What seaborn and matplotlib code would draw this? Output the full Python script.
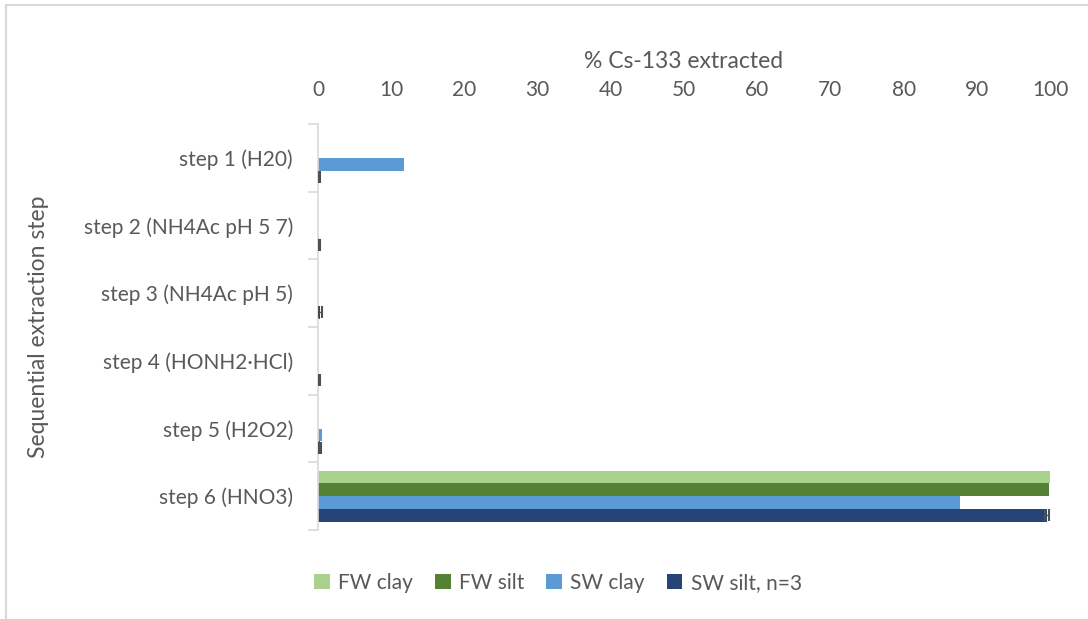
import numpy as np
import pandas as pd
import matplotlib
matplotlib.use("Agg")
import matplotlib.pyplot as plt
import seaborn as sns
from matplotlib.lines import Line2D
from matplotlib.patches import Patch

steps = ["step 1 (H20)", "step 2 (NH4Ac pH 5 7)", "step 3 (NH4Ac pH 5)",
         "step 4 (HONH2\u00b7HCl)", "step 5 (H2O2)", "step 6 (HNO3)"]
series = ["FW clay", "FW silt", "SW clay", "SW silt, n=3"]

fw_clay = [0.0, 0.05, 0.0, 0.05, 0.0, 100.0]
fw_silt = [0.0, 0.0, 0.0, 0.0, 0.0, 99.8]
sw_clay = [11.7, 0.05, 0.0, 0.0, 0.5, 87.7]
sw_silt = [0.2, 0.2, 0.3, 0.2, 0.3, 99.6]
sw_silt_err = [0.05, 0.05, 0.3, 0.05, 0.1, 0.3]

colors = ["#A9D18E", "#548235", "#5B9BD5", "#264478"]
text_color = "#595959"

sns.set_theme(style="white")
plt.rcParams["font.family"] = ["Lato", "DejaVu Sans"]

df = pd.DataFrame({
    "step": steps * 4,
    "series": [s for s in series for _ in steps],
    "value": fw_clay + fw_silt + sw_clay + sw_silt,
})

fig = plt.figure(figsize=(10.88, 6.19), dpi=100)
ax = fig.add_axes([318 / 1088, 1 - 530 / 619, (1050 - 318) / 1088, (530 - 124) / 619])

sns.barplot(data=df, y="step", x="value", hue="series", hue_order=series,
            order=steps, palette=colors, orient="h", width=0.75,
            errorbar=None, ax=ax, legend=False, saturation=1, linewidth=0)

# error bars for the SW silt series, placed on its bars
sw_bars = ax.containers[3]
for rect, v, e in zip(sw_bars, sw_silt, sw_silt_err):
    yc = rect.get_y() + rect.get_height() / 2
    ax.errorbar(v, yc, xerr=e, fmt="none", ecolor="#505050",
                elinewidth=1.0, capsize=4.3, capthick=1.5, zorder=5)

ax.set_xlim(0, 100)
ax.set_ylim(5.5, -0.5)
ax.xaxis.tick_top()
ax.set_xticks(np.arange(0, 101, 10))
ax.tick_params(axis="x", length=0, pad=17, labelsize=15, labelcolor=text_color)
ax.set_xlabel("% Cs-133 extracted", fontsize=16.5, color=text_color, labelpad=9)
ax.xaxis.set_label_position("top")

# category boundaries as ticks, names at band centres
ax.set_yticks(np.arange(-0.5, 6, 1))
ax.set_yticklabels([])
ax.set_yticks(np.arange(6), minor=True)
ax.set_yticklabels(steps, minor=True)
ax.tick_params(axis="y", which="major", length=7, width=1.2, color="#d9d9d9",
               direction="out", left=True)
ax.tick_params(axis="y", which="minor", length=0, pad=18, labelsize=15,
               labelcolor=text_color)
ax.set_ylabel("Sequential extraction step", fontsize=16.5, color=text_color)
ax.yaxis.set_label_coords(-0.367, 0.5)

for side in ["top", "right", "bottom"]:
    ax.spines[side].set_visible(False)
ax.spines["left"].set_color("#d9d9d9")
ax.spines["left"].set_linewidth(1.2)
ax.grid(False)

handles = [Patch(facecolor=c, edgecolor="none") for c in colors]
fig.legend(handles, series, loc="center", bbox_to_anchor=(558 / 1088, 1 - 583 / 619),
           ncol=4, frameon=False, fontsize=15, handlelength=0.75, handleheight=0.75,
           handletextpad=0.4, columnspacing=1.05, labelcolor=text_color)

# chart frame (top and left edges)
fig.add_artist(Line2D([6 / 1088, 1], [1 - 5 / 619, 1 - 5 / 619],
                      transform=fig.transFigure, color="#d9d9d9", lw=1.5))
fig.add_artist(Line2D([6 / 1088, 6 / 1088], [0, 1 - 5 / 619],
                      transform=fig.transFigure, color="#d9d9d9", lw=1.5))

fig.savefig("out.png", dpi=100)
